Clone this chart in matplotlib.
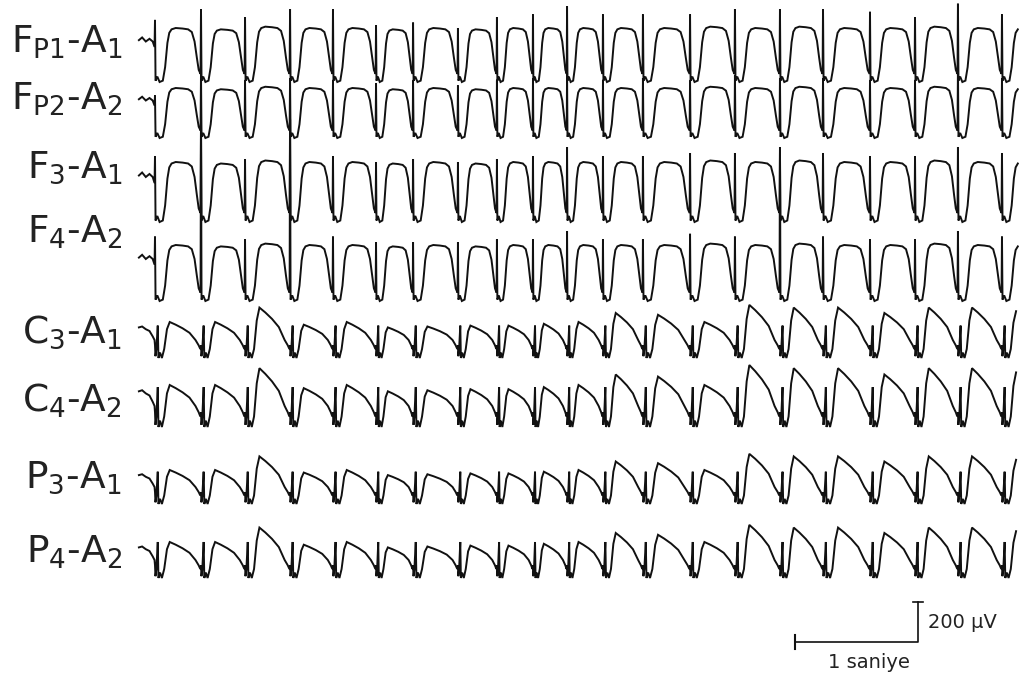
import numpy as np
import matplotlib.pyplot as plt

# spike onsets (s); 1 s bar = 123 px
spike_t = [0.000, 0.374, 0.732, 1.098, 1.447, 1.797, 2.098, 2.463, 2.780, 3.073,
           3.350, 3.642, 3.967, 4.350, 4.715, 5.081, 5.431, 5.813, 6.179, 6.528, 6.886]

labels = [r'$\mathregular{F_{P1}}$-$\mathregular{A_1}$',
          r'$\mathregular{F_{P2}}$-$\mathregular{A_2}$',
          r'$\mathregular{F_3}$-$\mathregular{A_1}$',
          r'$\mathregular{F_4}$-$\mathregular{A_2}$',
          r'$\mathregular{C_3}$-$\mathregular{A_1}$',
          r'$\mathregular{C_4}$-$\mathregular{A_2}$',
          r'$\mathregular{P_3}$-$\mathregular{A_1}$',
          r'$\mathregular{P_4}$-$\mathregular{A_2}$']

# channel centre (uV, page offset) and half swing (uV)
ch_mid = [-275, -565, -960, -1365, -1700, -2030, -2435, -2800]
ch_half = [135, 125, 150, 140, 90, 105, 85, 90]
ch_group = ['front', 'front', 'front', 'front', 'cent', 'cent', 'cent', 'cent']

# one spike-wave complex, phase 0..1 from spike to next spike (None = spike tip)
front_p = [0.0, 0.012, 0.05, 0.10, 0.17, 0.22, 0.27, 0.31, 0.36, 0.45, 0.60, 0.72, 0.80, 0.86, 0.91, 0.95, 0.99]
front_v = [None, -0.95, -0.8, -1.0, -0.95, -0.45, 0.45, 0.82, 0.95, 1.0, 0.98, 0.95, 0.85, 0.5, -0.1, -0.55, -0.7]
cent_p = [0.0, 0.01, 0.03, 0.06, 0.075, 0.11, 0.15, 0.20, 0.26, 0.32, 0.45, 0.60, 0.75, 0.88, 0.95, 0.985]
cent_v = [-0.3, -0.9, -0.5, None, -1.0, -0.7, -1.0, -0.5, 0.6, 1.0, 0.85, 0.65, 0.4, 0.0, -0.3, -0.5]

# lead-in before the first spike
lead_p = [-0.35, -0.28, -0.2, -0.12, -0.05, -0.01]
front_lead = [0.55, 0.65, 0.5, 0.6, 0.5, 0.3]
cent_lead = [0.7, 0.75, 0.6, 0.5, 0.2, 0.0]

# spike tips per channel (units of half swing)
tips = [
    [1.3, 1.7, 1.4, 1.7, 1.7, 1.1, 1.2, 1.0, 1.4, 1.5, 1.8, 1.5, 1.5, 1.5, 1.7, 1.7, 1.7, 1.6, 1.4, 1.9, 1.5],
    [0.7, 1.6, 1.3, 1.4, 1.3, 1.2, 1.3, 1.1, 1.3, 1.4, 1.6, 1.3, 1.4, 1.3, 1.5, 1.4, 1.4, 1.3, 1.3, 1.8, 1.4],
    [1.2, 2.4, 1.1, 2.4, 1.2, 1.0, 1.1, 1.0, 1.1, 1.2, 1.5, 1.2, 1.2, 1.3, 1.3, 1.4, 1.3, 1.2, 1.2, 1.5, 1.3],
    [1.3, 5.5, 1.2, 5.5, 1.3, 1.1, 1.1, 1.1, 1.2, 1.2, 1.5, 1.2, 1.2, 1.4, 1.3, 4.5, 1.3, 1.2, 1.2, 1.5, 1.3],
    [0.8] * 21, [0.9] * 21, [0.9] * 21, [1.0] * 21,
]
# height of the slow wave for each complex
front_dome = [1.0, 0.95, 1.05, 1.0, 1.0, 0.95, 1.0, 0.95, 1.0, 1.0, 1.0, 1.0, 1.0, 1.05, 1.0, 1.05, 1.0, 1.0, 1.05, 1.0, 1.0]
cent_dome = [1.0, 1.0, 1.8, 0.85, 1.0, 0.7, 0.75, 0.8, 0.8, 0.9, 1.0, 1.5, 1.4, 1.0, 1.95, 1.8, 1.8, 1.5, 1.8, 1.8, 1.6]

t_end = 864 / 123


def trace(k):
    if ch_group[k] == 'front':
        tp, tv, lv, dome = front_p, front_v, front_lead, front_dome
    else:
        tp, tv, lv, dome = cent_p, cent_v, cent_lead, cent_dome
    xs, ys = [], []
    p0 = spike_t[1] - spike_t[0]
    for p, v in zip(lead_p, lv):
        xs.append(spike_t[0] + p * p0)
        ys.append(v)
    for i, s in enumerate(spike_t):
        per = spike_t[i + 1] - s if i + 1 < len(spike_t) else s - spike_t[i - 1]
        for p, v in zip(tp, tv):
            t = s + p * per
            if t > t_end:
                break
            if v is None:
                v = tips[k][i]
            elif v > 0:
                v = v * dome[i]
            xs.append(t)
            ys.append(v)
    return np.array(xs), ch_mid[k] + ch_half[k] * np.array(ys)


fig = plt.figure(figsize=(10.19, 6.79), dpi=100)
ax = fig.add_axes([0, 0, 1, 1])
ax.set_xlim(-155 / 123, t_end)
ax.set_ylim(-679 * 5, 0)
ax.axis('off')

label_y = [53, 110, 178, 243, 343, 412, 488, 563]
for k in range(8):
    x, y = trace(k)
    ax.plot(x, y, color='#111111', lw=1.4, solid_joinstyle='miter')
    ax.text(-33 / 123, -label_y[k] * 5, labels[k], ha='right', va='baseline',
            fontsize=27, color='#222222')

# calibration: 1 s, 200 uV
x0, y0 = 5.203, -642 * 5
ax.plot([x0, x0 + 1, x0 + 1], [y0, y0, y0 + 200], color='#111111', lw=1.2)
ax.plot([x0, x0], [y0 - 35, y0 + 35], color='#111111', lw=1.5)
ax.plot([x0 + 1 - 0.04, x0 + 1 + 0.04], [y0 + 200, y0 + 200], color='#111111', lw=1.2)
ax.text(x0 + 1.08, y0 + 100, '200 µV', ha='left', va='center', fontsize=14, color='#222222')
ax.text(x0 + 0.6, -662 * 5, '1 saniye', ha='center', va='center', fontsize=14, color='#222222')

fig.savefig('out.png', dpi=100)
